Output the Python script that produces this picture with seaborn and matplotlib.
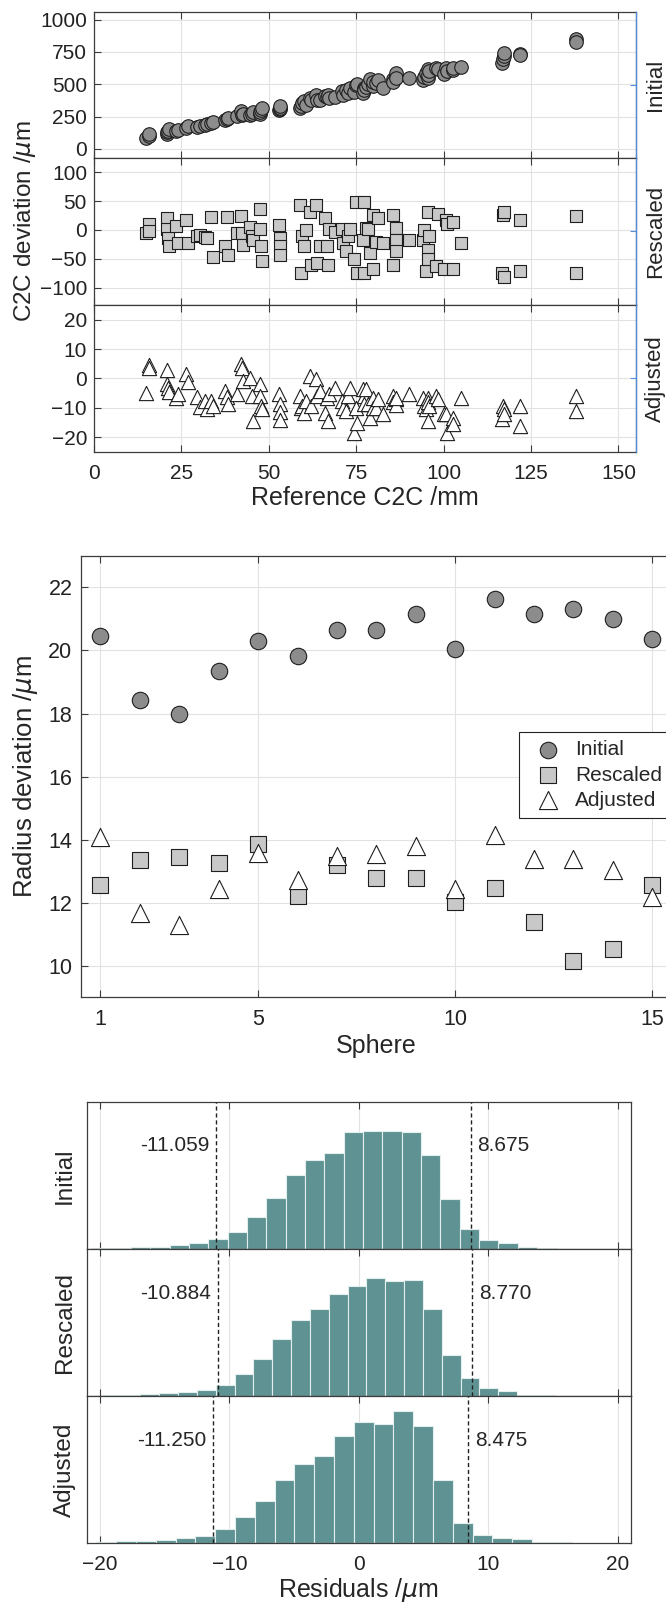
import numpy as np
import pandas as pd
import matplotlib
matplotlib.use("Agg")
import matplotlib.pyplot as plt
import matplotlib.transforms as mtransforms
from matplotlib import font_manager as fm
import seaborn as sns

# ---------------------------------------------------------------- data
# C2C deviation for every sphere pair, against the reference distance
ref_c2c = [15.0, 15.6, 15.8, 20.8, 21.0, 21.2, 21.4, 23.6, 24.0, 26.4, 26.8,
           29.5, 30.3, 31.7, 32.4, 33.6, 34.0, 37.4, 38.0, 38.4,
           40.8, 42.0, 42.3, 42.6, 44.5, 45.3, 45.6, 47.4, 47.6, 47.8, 48.0,
           52.9, 53.1, 53.2, 53.3, 59.0, 59.3, 59.6, 60.2, 60.6,
           61.7, 62.2, 63.4, 63.8, 64.5, 66.2, 66.7, 67.0, 67.2,
           68.8, 70.8, 71.2, 72.1, 72.7, 73.1, 74.5, 75.0, 75.3,
           76.9, 77.3, 77.3, 77.8, 78.3, 78.8, 79.7, 79.7, 80.7, 81.1,
           82.6, 85.4, 85.4, 86.4, 86.4, 86.4, 90.0,
           94.0, 94.5, 95.0, 95.4, 95.4, 95.4, 95.9, 97.8, 98.3,
           100.2, 100.7, 100.9, 102.6, 102.6, 105.0,
           116.7, 116.9, 117.3, 117.3, 121.9, 121.9, 137.8, 137.8]
c2c_initial = [88, 100, 112, 118, 128, 142, 152, 135, 148, 165, 180,
               172, 180, 188, 196, 200, 206, 222, 232, 238,
               255, 290, 262, 270, 260, 270, 285, 268, 282, 300, 315,
               300, 310, 318, 330, 320, 335, 352, 370, 340,
               393, 375, 414, 380, 382, 410, 400, 420, 392,
               400, 445, 420, 458, 430, 471, 440, 492, 503,
               430, 470, 455, 480, 500, 537, 490, 520, 510, 530,
               470, 537, 520, 563, 590, 545, 550,
               530, 560, 590, 550, 615, 575, 600, 628, 615,
               580, 628, 600, 610, 625, 634,
               665, 695, 720, 745, 733, 728, 850, 825]
c2c_rescaled = [-6, 11, -1, 20, 1, -14, -28, 7, -23, 17, -23,
                -10, -8, -12, -14, 22, -47, -28, 22, -44,
                -6, 24, -6, -26, 6, -11, -18, 37, 1, -28, -54,
                8, -14, -28, -44, 44, -74, -11, -28, 0,
                31, -61, 44, -58, -27, 20, -27, -61, 1,
                -4, 1, -23, -37, -11, 1, -51, 48, -74,
                -17, 48, -74, 3, 2, -40, 26, -68, -20, 20,
                -23, 26, -60, 3, -17, -37, -17,
                -17, 0, -71, 31, -34, -51, -10, -62, 28,
                -68, 17, 10, 14, -68, -22,
                -74, 26, 31, -82, 17, -71, 24, -75]
c2c_adjusted = [-4.9, 4.5, 3.4, 3.0, -1.8, -3.2, -4.5, -6.6, -5.4, 1.4, -1.1,
                -6.2, -9.8, -7.5, -10.5, -7.8, -9.4, -4.3, -6.2, -8.8,
                -5.4, 4.8, 3.6, -0.9, 0.2, -6.0, -14.5, -2.0, -6.0, -9.4, -10.5,
                -5.4, -8.8, -11.5, -14.0, -6.0, -10.0, -9.4, -11.7, -7.5,
                0.8, -9.4, -0.3, -6.0, -4.3, -11.7, -6.6, -14.5, -5.4,
                -3.2, -7.7, -10.0, -11.0, -6.0, -3.2, -18.5, -10.0, -15.0,
                -3.7, -6.0, -8.8, -3.7, -8.8, -13.4, -6.6, -10.0, -10.0, -7.0,
                -12.2, -6.0, -8.0, -7.1, -9.0, -6.5, -5.4,
                -6.6, -9.4, -10.5, -6.6, -14.5, -8.0, -9.4, -6.0, -7.0,
                -12.2, -12.2, -18.5, -13.4, -15.5, -6.6,
                -13.9, -9.4, -10.5, -12.0, -9.4, -16.2, -6.0, -11.1]

# radius deviation per sphere
spheres = list(range(1, 16))
radius_initial = [20.46, 18.43, 17.99, 19.34, 20.30, 19.81, 20.66, 20.66,
                  21.14, 20.04, 21.62, 21.14, 21.30, 21.01, 20.35]
radius_rescaled = [12.56, 13.37, 13.45, 13.26, 13.87, 12.21, 13.20, 12.80,
                   12.77, 12.01, 12.47, 11.40, 10.14, 10.53, 12.56]
radius_adjusted = [14.10, 11.66, 11.30, 12.42, 13.58, 12.72, 13.47, 13.53,
                   13.79, 12.42, 14.14, 13.40, 13.40, 13.05, 12.19]

# residual histograms (bar heights, arbitrary count units)
hist_names = ["Initial", "Rescaled", "Adjusted"]
hist_initial = [3, 3, 6, 7, 12, 18, 29, 52, 97, 153, 221, 265, 288, 350, 353,
                351, 348, 282, 150, 61, 27, 17, 5, 2, 1]
hist_rescaled = [2, 3, 7, 8, 12, 17, 32, 66, 110, 170, 227, 260, 305, 330, 352,
                 343, 347, 260, 124, 53, 25, 14, 4, 2]
hist_adjusted = [3, 4, 5, 7, 14, 19, 41, 78, 125, 189, 237, 260, 321, 362, 357,
                 395, 350, 188, 60, 22, 14, 10, 3, 1]
bin_start = [-20.6, -19.78, -20.27]
bin_width = [1.495, 1.455, 1.53]
q_low = [-11.059, -10.884, -11.250]
q_high = [8.675, 8.770, 8.475]

# ---------------------------------------------------------------- style
sns.set_theme(style="whitegrid")
names = {f.name for f in fm.fontManager.ttflist}
main_font = "Liberation Sans" if "Liberation Sans" in names else "DejaVu Sans"
plt.rcParams["font.family"] = [main_font, "DejaVu Sans"]
plt.rcParams["mathtext.fontset"] = "dejavusans"

EDGE = "#3c3c3c"
GRID = "#e2e2e2"
BLUE = "#4f8fdc"
DARK_FILL = "#8c8c8c"
LIGHT_FILL = "#c8c8c8"
BAR = "#5f9393"
TICK_FS = 15
LAB_FS = 18


def style_axes(ax, xpad=8.5, ypad=5):
    for sp in ax.spines.values():
        sp.set_color(EDGE)
        sp.set_linewidth(0.9)
    ax.grid(True, color=GRID, lw=0.8)
    ax.set_axisbelow(True)
    ax.tick_params(axis="both", direction="in", length=5, width=0.8,
                   color=EDGE, labelsize=TICK_FS, labelcolor="#222222")
    ax.tick_params(axis="x", top=True, bottom=True, pad=xpad)
    ax.tick_params(axis="y", left=True, right=False, pad=ypad)


fig = plt.figure(figsize=(6.66, 16.05), dpi=100)

# ---------------------------------------------------------------- panel 1: C2C
top_rects = [[0.1411, 0.9016, 0.8138, 0.0910],
             [0.1411, 0.8100, 0.8138, 0.0916],
             [0.1411, 0.7184, 0.8138, 0.0916]]
top_series = [c2c_initial, c2c_rescaled, c2c_adjusted]
top_marker = [dict(marker="o", s=95, color=DARK_FILL),
              dict(marker="s", s=85, color=LIGHT_FILL),
              dict(marker="^", s=105, color="white")]
top_ylim = [(-70, 1060), (-130, 125), (-25, 25)]
top_yticks = [[0, 250, 500, 750, 1000], [-100, -50, 0, 50, 100], [-20, -10, 0, 10, 20]]

for i, rect in enumerate(top_rects):
    ax = fig.add_axes(rect)
    sns.scatterplot(x=ref_c2c, y=top_series[i], ax=ax, edgecolor="#1e1e1e",
                    linewidth=0.8, zorder=3, **top_marker[i])
    ax.set_xlim(0, 155)
    ax.set_ylim(*top_ylim[i])
    ax.set_yticks(top_yticks[i])
    ax.set_xticks([0, 25, 50, 75, 100, 125, 150])
    style_axes(ax)
    if i < 2:
        ax.tick_params(axis="x", labelbottom=False)
    else:
        ax.set_xlabel("Reference C2C /mm", fontsize=LAB_FS, labelpad=2)
    tw = ax.twinx()
    tw.set_ylim(0, 1)
    tw.set_yticks([0.5])
    tw.set_yticklabels([])
    tw.grid(False)
    tw.tick_params(axis="y", direction="in", length=4, width=0.8, color=BLUE, right=True)
    tw.spines["right"].set_color(BLUE)
    tw.spines["right"].set_linewidth(0.9)
    for s in ["top", "bottom", "left"]:
        tw.spines[s].set_visible(False)
    tw.set_ylabel(hist_names[i], fontsize=16, labelpad=3)

fig.text(25 / 666, 0.862, r"C2C deviation /$\mu$m", rotation=90,
         ha="center", va="center", fontsize=17.5)

# ---------------------------------------------------------------- panel 2: radius
ax = fig.add_axes([0.1212, 0.3786, 0.8878, 0.2751])
sns.scatterplot(x=spheres, y=radius_initial, ax=ax, marker="o", s=140,
                color=DARK_FILL, edgecolor="#1e1e1e", linewidth=0.8,
                label="Initial", zorder=3)
sns.scatterplot(x=spheres, y=radius_rescaled, ax=ax, marker="s", s=135,
                color=LIGHT_FILL, edgecolor="#1e1e1e", linewidth=0.8,
                label="Rescaled", zorder=3)
sns.scatterplot(x=spheres, y=radius_adjusted, ax=ax, marker="^", s=170,
                color="white", edgecolor="#1e1e1e", linewidth=0.8,
                label="Adjusted", zorder=4)
ax.set_xlim(0.5, 15.5)
ax.set_ylim(9, 23)
ax.set_xticks([1, 5, 10, 15])
ax.set_yticks([10, 12, 14, 16, 18, 20, 22])
style_axes(ax, xpad=8.5, ypad=6)
ax.tick_params(labelsize=15.5)
ax.set_xlabel("Sphere", fontsize=LAB_FS, labelpad=3)
ax.set_ylabel(r"Radius deviation /$\mu$m", fontsize=18.5)
ax.yaxis.set_label_coords(-0.0688, 0.5)
leg = ax.legend(loc="upper left", bbox_to_anchor=(0.741, 0.601), borderaxespad=0,
                frameon=True, fancybox=False, framealpha=1, edgecolor="#222222",
                fontsize=TICK_FS, handletextpad=0.3, labelspacing=0.3,
                borderpad=0.4)
leg.get_frame().set_linewidth(0.8)

# ---------------------------------------------------------------- panel 3: residuals
hist_rects = [[0.1306, 0.2218, 0.8162, 0.0918],
              [0.1306, 0.1302, 0.8162, 0.0916],
              [0.1306, 0.0388, 0.8162, 0.0914]]
hist_counts = [hist_initial, hist_rescaled, hist_adjusted]

for i, rect in enumerate(hist_rects):
    ax = fig.add_axes(rect)
    counts = np.array(hist_counts[i], dtype=float)
    edges = bin_start[i] + bin_width[i] * np.arange(len(counts) + 1)
    hist_df = pd.DataFrame({"residual": edges[:-1] + bin_width[i] / 2,
                            "count": counts})
    sns.histplot(data=hist_df, x="residual", weights="count", bins=edges.tolist(),
                 ax=ax, color=BAR, alpha=1, edgecolor="#e4eeee",
                 linewidth=0.8, zorder=2)
    ax.set_xlim(-21, 21)
    ax.set_ylim(0, 440)
    ax.set_xticks([-20, -10, 0, 10, 20])
    ax.set_yticks([])
    style_axes(ax, xpad=9)
    ax.grid(False, axis="y")
    trans = mtransforms.blended_transform_factory(ax.transData, ax.transAxes)
    for v in (q_low[i], q_high[i]):
        ax.axvline(v, color="#222222", lw=1.0, ls=(0, (3, 2)), zorder=4)
    ax.text(q_low[i] - 0.5, 0.70, f"{q_low[i]:.3f}", transform=trans,
            ha="right", va="center", fontsize=TICK_FS)
    ax.text(q_high[i] + 0.5, 0.70, f"{q_high[i]:.3f}", transform=trans,
            ha="left", va="center", fontsize=TICK_FS)
    ax.set_ylabel(hist_names[i], fontsize=17.5)
    ax.yaxis.set_label_coords(-0.02, 0.5)
    if i < 2:
        ax.tick_params(axis="x", labelbottom=False)
        ax.set_xlabel("")
    else:
        ax.set_xlabel(r"Residuals /$\mu$m", fontsize=LAB_FS, labelpad=1)

fig.savefig("out.png", dpi=100)
